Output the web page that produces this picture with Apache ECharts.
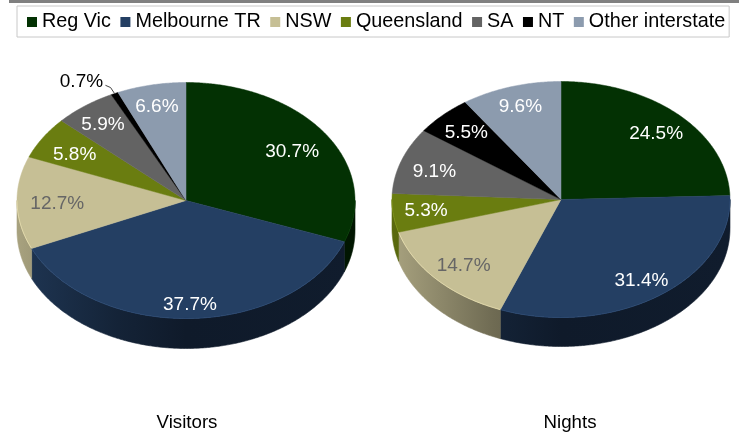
<!DOCTYPE html>
<html>
<head>
<meta charset="utf-8">
<style>
  html, body { margin: 0; padding: 0; background: #fff; }
  #chart { width: 739px; height: 434px; }
</style>
<script src="https://cdn.jsdelivr.net/npm/echarts@6/dist/echarts.min.js"></script>
</head>
<body>
<div id="chart"></div>
<script>
const categories = ["Reg Vic", "Melbourne TR", "NSW", "Queensland", "SA", "NT", "Other interstate"];
const pieNames = ["Visitors", "Nights"];
const visitors = [30.7, 37.7, 12.7, 5.8, 5.9, 0.7, 6.6];
const nights = [24.5, 31.4, 14.7, 5.3, 9.1, 5.5, 9.6];

const colors = ["#033103", "#243f63", "#c6bf95", "#6a7d10", "#636363", "#000000", "#8c9bae"];
const labelColors = ["#fff", "#fff", "#666", "#fff", "#fff", "#fff", "#fff"];

// pie geometry, the tilted disc is an ellipse with a wall below it
const pies = [
  { cx: 186, cy: 200.5, rx: 169, ry: 118, depth: 30 },
  { cx: 561, cy: 199.5, rx: 169, ry: 118, depth: 29 },
];
// label nudges from the 0.75 radius point of each slice
const visitorLabelNudge = [[2, 1.5], [0, 15.5], [-2, 1.5], [-4, 1.5], [-7, -4.5], [-51, -39], [-3, -7.5]];
const nightLabelNudge = [[7, -2.5], [7, 9.5], [-4, 6.5], [-9, 1.5], [-7, 1.5], [-6, -3.5], [-3, -8.5]];
const labelNudges = [visitorLabelNudge, nightLabelNudge];

const shadeStops = [[0, 0.85], [0.3, 0.56], [0.5, 0.42], [1, 0.45]];

function shade(hex, f) {
  const n = parseInt(hex.slice(1), 16);
  const ch = (v) => Math.min(255, Math.round(v * f));
  return "rgb(" + ch(n >> 16) + "," + ch((n >> 8) & 255) + "," + ch(n & 255) + ")";
}

function pt(p, deg, drop) {
  const a = (deg * Math.PI) / 180;
  return [p.cx + p.rx * Math.sin(a), p.cy - p.ry * Math.cos(a) + (drop || 0)];
}

function arc(p, from, to, drop) {
  const out = [];
  const steps = Math.max(2, Math.ceil((to - from) * 2));
  for (let i = 0; i <= steps; i++) out.push(pt(p, from + ((to - from) * i) / steps, drop));
  return out;
}

function renderSlice(params, api) {
  const pieIdx = api.value(0);
  const from = api.value(1);
  const to = api.value(2);
  const val = api.value(3);
  const cat = params.seriesIndex;
  const p = pies[pieIdx];
  const base = colors[cat];
  const kids = [];

  // front wall, only the part between 90 and 270 degrees shows
  const wFrom = Math.max(from, 90);
  const wTo = Math.min(to, 270);
  if (wTo > wFrom) {
    const top = arc(p, wFrom, wTo, 0);
    const bottom = arc(p, wFrom, wTo, p.depth).reverse();
    const wallFill = new echarts.graphic.LinearGradient(
      p.cx - p.rx, 0, p.cx + p.rx, 0,
      shadeStops.map((s) => ({ offset: s[0], color: shade(base, s[1]) })),
      true
    );
    kids.push({
      type: "polygon",
      shape: { points: top.concat(bottom) },
      style: { fill: wallFill, stroke: wallFill, lineWidth: 0.6 },
      z2: 1,
    });
  }

  // top face
  kids.push({
    type: "polygon",
    shape: { points: [[p.cx, p.cy]].concat(arc(p, from, to, 0)) },
    style: { fill: base, stroke: base, lineWidth: 0.5 },
    z2: 2,
  });

  // small lighter line on the front rim
  if (wTo > wFrom && cat !== 5) {
    kids.push({
      type: "polyline",
      shape: { points: arc(p, wFrom, wTo, 0) },
      style: { fill: null, stroke: shade(base, 1.25), lineWidth: 1, opacity: 0.6 },
      z2: 3,
    });
  }

  // value label
  const mid = (from + to) / 2;
  const a = (mid * Math.PI) / 180;
  const nudge = labelNudges[pieIdx][cat];
  const lx = p.cx + 0.75 * p.rx * Math.sin(a) + nudge[0];
  const ly = p.cy - 0.75 * p.ry * Math.cos(a) + nudge[1];
  const outside = val < 1;
  kids.push({
    type: "text",
    x: lx,
    y: ly,
    style: {
      text: val.toFixed(1) + "%",
      fill: outside ? "#000" : labelColors[cat],
      font: '19px "Liberation Sans", Arial, sans-serif',
      align: "center",
      verticalAlign: "middle",
    },
    z2: 10,
  });
  if (outside) {
    const edge = pt(p, mid, 0);
    kids.push({
      type: "polyline",
      shape: { points: [[lx + 24, ly + 4], [edge[0] - 4, edge[1] - 6], edge] },
      style: { fill: null, stroke: "#444", lineWidth: 1 },
      z2: 9,
    });
  }

  return { type: "group", children: kids };
}

// one series per category so the legend works, start and end angle per pie
const totals = [visitors, nights].map((arr) => arr.reduce((s, v) => s + v, 0));
const running = [0, 0];
const series = categories.map((name, i) => {
  const data = [visitors[i], nights[i]].map((v, k) => {
    const from = (running[k] / totals[k]) * 360;
    running[k] += v;
    return [k, from, (running[k] / totals[k]) * 360, v];
  });
  return {
    name: name,
    type: "custom",
    coordinateSystem: "none",
    renderItem: renderSlice,
    itemStyle: { color: colors[i] },
    encode: { tooltip: 3 },
    data: data,
  };
});

const chart = echarts.init(document.getElementById("chart"), null, { renderer: "canvas" });
chart.setOption({
  animation: false,
  backgroundColor: "#fff",
  title: [
    { text: pieNames[0], left: 182, top: 408, textAlign: "center",
      textStyle: { fontFamily: "Liberation Sans", fontSize: 18.7, fontWeight: "normal", color: "#000" } },
    { text: pieNames[1], left: 565, top: 408, textAlign: "center",
      textStyle: { fontFamily: "Liberation Sans", fontSize: 18.7, fontWeight: "normal", color: "#000" } },
  ],
  legend: {
    data: categories,
    left: 17,
    top: 6,
    padding: [6, 4, 5, 10],
    itemWidth: 10,
    itemHeight: 10,
    itemGap: 9.5,
    icon: "rect",
    borderColor: "#c8c8c8",
    borderWidth: 1,
    selectedMode: false,
    textStyle: { fontFamily: "Liberation Sans", fontSize: 19.8, color: "#000" },
  },
  graphic: [
    { type: "rect", shape: { x: 9, y: 0, width: 730, height: 3 }, style: { fill: "#808080" } },
  ],
  series: series,
});
</script>
</body>
</html>
